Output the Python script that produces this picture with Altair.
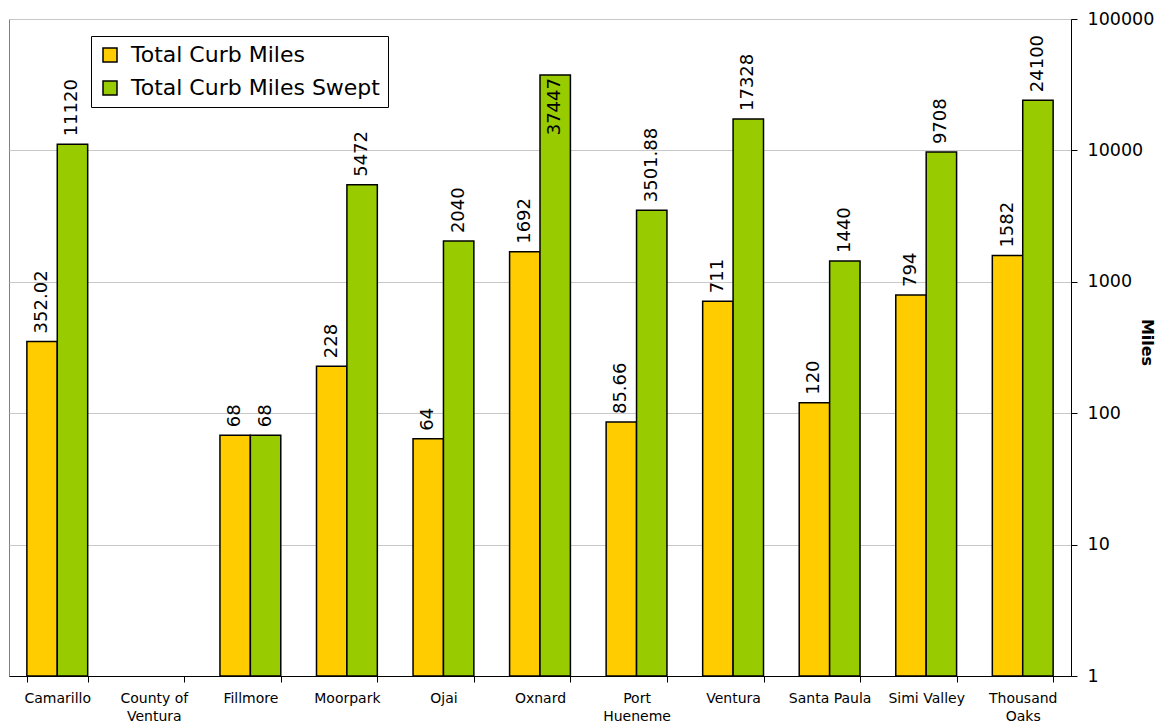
import altair as alt
import pandas as pd

cities = ["Camarillo", "County of Ventura", "Fillmore", "Moorpark", "Ojai", "Oxnard",
          "Port Hueneme", "Ventura", "Santa Paula", "Simi Valley", "Thousand Oaks"]
curb_miles = [352.02, None, 68, 228, 64, 1692, 85.66, 711, 120, 794, 1582]
curb_labels = ["352.02", None, "68", "228", "64", "1692", "85.66", "711", "120", "794", "1582"]
swept_miles = [11120, None, 68, 5472, 2040, 37447, 3501.88, 17328, 1440, 9708, 24100]
swept_labels = ["11120", None, "68", "5472", "2040", "37447", "3501.88", "17328", "1440", "9708", "24100"]
series_names = ["Total Curb Miles", "Total Curb Miles Swept"]
series_colors = ["#FFCC00", "#99CC00"]
y_ticks = [1, 10, 100, 1000, 10000, 100000]
label_lines = {
    "County of Ventura": ["County of", "Ventura"],
    "Port Hueneme": ["Port", "Hueneme"],
    "Thousand Oaks": ["Thousand", "Oaks"],
}

rows = []
for i, c in enumerate(cities):
    for s, vals, labs in ((series_names[0], curb_miles, curb_labels),
                          (series_names[1], swept_miles, swept_labels)):
        if vals[i] is not None:
            rows.append({"city": c, "series": s, "value": vals[i], "label": labs[i], "base": 1})
df = pd.DataFrame(rows)

FONT = "DejaVu Sans"

expr = "datum.value"
for k, v in label_lines.items():
    expr = "datum.value == '%s' ? ['%s', '%s'] : (%s)" % (k, v[0], v[1], expr)

x_enc = alt.X(
    "city:N",
    sort=cities,
    scale=alt.Scale(domain=cities, paddingInner=0.37, paddingOuter=0.185),
    axis=alt.Axis(
        title=None, labelFont=FONT, labelFontSize=14, labelColor="black",
        tickBand="extent", tickColor="black", tickSize=6, domainColor="black",
        labelAngle=0, labelPadding=9, labelLineHeight=18, labelExpr=expr, grid=False,
    ),
)
xo_enc = alt.XOffset("series:N", sort=series_names,
                     scale=alt.Scale(domain=series_names, paddingInner=0, paddingOuter=0))
y_scale = alt.Scale(type="log", domain=[1, 100000])

bars = alt.Chart(df).mark_bar(stroke="black", strokeWidth=1.5).encode(
    x=x_enc,
    xOffset=xo_enc,
    y=alt.Y("value:Q", scale=y_scale, axis=alt.Axis(
        orient="right", values=y_ticks, format="d", labelFont=FONT, labelFontSize=17.5,
        labelColor="black", domainColor="black", tickColor="black", tickSize=6,
        labelPadding=10, labelFlush=False, gridColor="#C8C8C8",
        title="Miles", titleFont=FONT, titleFontSize=16, titleFontWeight="bold",
        titleColor="black", titleAngle=90, titleX=75, titleY=323, titleBaseline="middle",
        titleAlign="center",
    )),
    y2="base:Q",
    color=alt.Color("series:N", scale=alt.Scale(domain=series_names, range=series_colors),
                    legend=alt.Legend(
                        title=None, orient="none", legendX=82, legendY=17, direction="vertical",
                        strokeColor="black", fillColor="white", padding=8,
                        labelFont=FONT, labelFontSize=22, labelColor="black", labelLimit=0,
                        symbolType="square", symbolSize=196, symbolStrokeColor="black",
                        symbolStrokeWidth=1.5, rowPadding=11, labelOffset=10,
                    )),
)

above = alt.Chart(df).transform_filter("datum.value < 30000").mark_text(
    angle=270, align="left", baseline="middle", dx=8, font=FONT, fontSize=18, color="black"
).encode(x=x_enc, xOffset=xo_enc, y=alt.Y("value:Q", scale=y_scale), text="label:N")

inside = alt.Chart(df).transform_filter("datum.value >= 30000").mark_text(
    angle=270, align="right", baseline="middle", dx=-3, font=FONT, fontSize=18, color="black"
).encode(x=x_enc, xOffset=xo_enc, y=alt.Y("value:Q", scale=y_scale), text="label:N")

chart = alt.layer(bars, above, inside).properties(
    width=1062, height=657,
    autosize=alt.AutoSizeParams(type="none"),
    padding={"left": 1, "top": 11, "right": 84, "bottom": 48},
    background="white",
).configure_view(stroke="#808080", strokeWidth=1)

chart.save("out.html", embed_options={"renderer": "svg", "actions": False})
